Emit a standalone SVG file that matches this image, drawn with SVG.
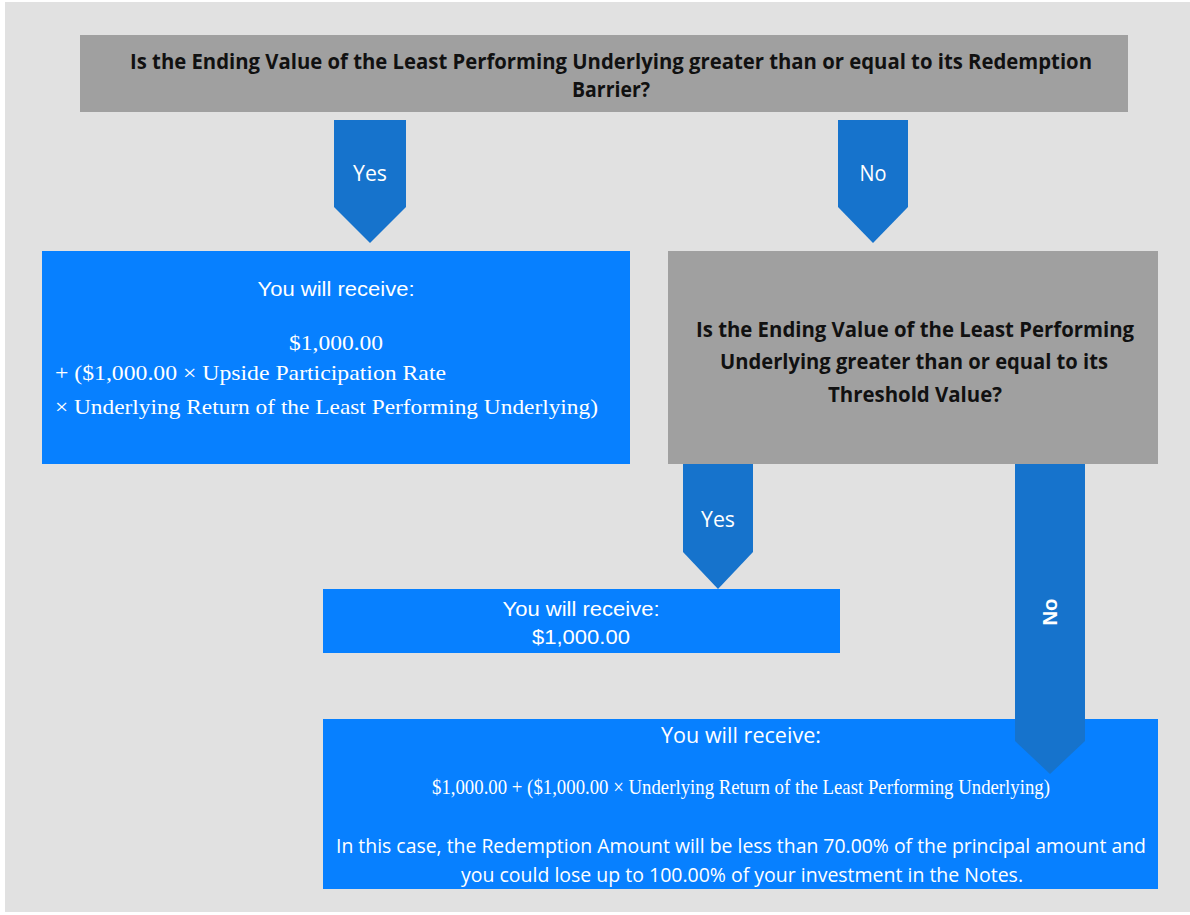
<svg xmlns="http://www.w3.org/2000/svg" width="1190" height="915" viewBox="0 0 1190 915">
<style>
.q{fill:#a0a0a0}
.b{fill:#0780ff}
.ar{fill:#1673cc}
.qt{font-family:"Open Sans","Liberation Sans",sans-serif;font-weight:bold;font-size:22px;fill:#111;text-anchor:middle}
.wt{font-family:"Liberation Sans",Arial,sans-serif;font-size:20px;fill:#fff;text-anchor:middle}
.ct{font-family:"Open Sans","Liberation Sans",sans-serif;font-size:21px;fill:#fff;text-anchor:middle}
.st{font-family:"Liberation Serif","DejaVu Serif",serif;font-size:22px;fill:#fff}
.lt{font-family:"Open Sans","Liberation Sans",sans-serif;font-size:20px;fill:#fff;text-anchor:middle}
</style>
<rect x="0" y="0" width="1190" height="915" fill="#ffffff"/>
<rect x="5" y="2" width="1185" height="910" fill="#e1e1e1"/>

<g id="q1">
<rect class="q" x="80" y="35" width="1048" height="77"/>
<text class="qt" x="611" y="69" textLength="962" lengthAdjust="spacingAndGlyphs">Is the Ending Value of the Least Performing Underlying greater than or equal to its Redemption</text>
<text class="qt" x="611" y="97" textLength="78" lengthAdjust="spacingAndGlyphs">Barrier?</text>
</g>

<g id="r1">
<rect class="b" x="42" y="251" width="588" height="213"/>
<text class="wt" x="336" y="296" textLength="157" lengthAdjust="spacingAndGlyphs">You will receive:</text>
<text class="st" x="336" y="350" text-anchor="middle" textLength="94" lengthAdjust="spacingAndGlyphs">$1,000.00</text>
<text class="st" x="55" y="380" textLength="391" lengthAdjust="spacingAndGlyphs">+ ($1,000.00 × Upside Participation Rate</text>
<text class="st" x="55" y="414" textLength="543" lengthAdjust="spacingAndGlyphs">× Underlying Return of the Least Performing Underlying)</text>
</g>

<g id="q2">
<rect class="q" x="668" y="251" width="490" height="213"/>
<text class="qt" x="915" y="337" textLength="438" lengthAdjust="spacingAndGlyphs">Is the Ending Value of the Least Performing</text>
<text class="qt" x="914" y="369" textLength="388" lengthAdjust="spacingAndGlyphs">Underlying greater than or equal to its</text>
<text class="qt" x="915" y="402" textLength="174" lengthAdjust="spacingAndGlyphs">Threshold Value?</text>
</g>

<g id="r2">
<rect class="b" x="323" y="589" width="517" height="64"/>
<text class="wt" x="581" y="616" textLength="157" lengthAdjust="spacingAndGlyphs">You will receive:</text>
<text class="wt" x="581" y="644" textLength="98" lengthAdjust="spacingAndGlyphs">$1,000.00</text>
</g>

<g id="r3">
<rect class="b" x="323" y="719" width="835" height="170"/>
<text class="ct" x="741" y="743" textLength="160" lengthAdjust="spacingAndGlyphs">You will receive:</text>
<text class="st" x="741" y="794" text-anchor="middle" font-size="16" textLength="618" lengthAdjust="spacingAndGlyphs">$1,000.00 + ($1,000.00 × Underlying Return of the Least Performing Underlying)</text>
<text class="lt" x="741" y="853" textLength="810" lengthAdjust="spacingAndGlyphs">In this case, the Redemption Amount will be less than 70.00% of the principal amount and</text>
<text class="lt" x="742" y="882" textLength="562" lengthAdjust="spacingAndGlyphs">you could lose up to 100.00% of your investment in the Notes.</text>
</g>

<g id="connectors">
<g id="yes1">
<polygon class="ar" points="334,120 406,120 406,207 370,243 334,207"/>
<text class="ct" x="370" y="181" textLength="34" lengthAdjust="spacingAndGlyphs">Yes</text>
</g>
<g id="no1">
<polygon class="ar" points="838,120 908,120 908,207 873,243 838,207"/>
<text class="ct" x="873" y="181" textLength="27" lengthAdjust="spacingAndGlyphs">No</text>
</g>
<g id="yes2">
<polygon class="ar" points="683,464 753,464 753,552 718,589 683,552"/>
<text class="ct" x="718" y="527" textLength="34" lengthAdjust="spacingAndGlyphs">Yes</text>
</g>
<g id="no2">
<polygon class="ar" points="1015,464 1085,464 1085,741 1050,774 1015,741"/>
<text class="wt" transform="translate(1057,612) rotate(-90)" x="0" y="0" font-size="18" font-weight="bold" textLength="27" lengthAdjust="spacingAndGlyphs">No</text>
</g>
</g>
</svg>
